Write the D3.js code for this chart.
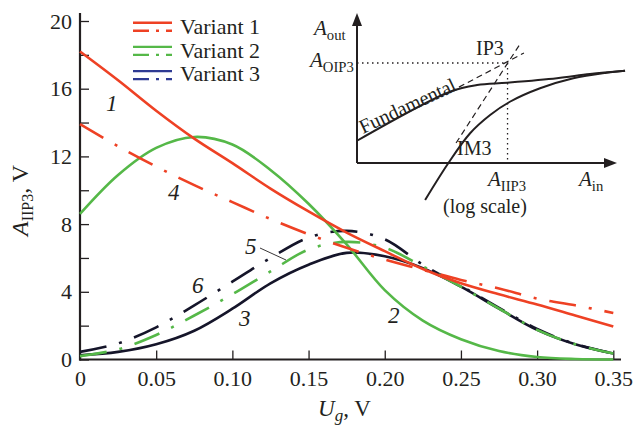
<!DOCTYPE html>
<html>
<head>
<meta charset="utf-8">
<script src="https://cdn.jsdelivr.net/npm/d3@7"></script>
<style>
body { margin: 0; background: #fff; }
svg text { font-family: "Liberation Serif", "DejaVu Serif", "Times New Roman", Times, serif !important; fill: #231f20; }
</style>
</head>
<body>
<div id="chart"></div>
<script>
const width = 638;
const height = 427;

// gate voltage, V
const ug = [0, 0.025, 0.05, 0.075, 0.1, 0.125, 0.15, 0.175, 0.2, 0.225, 0.25, 0.275, 0.3, 0.325, 0.35];
// A_IIP3, V
const curve1 = [18.2, 16.5, 14.7, 13.05, 11.6, 10.1, 8.75, 7.5, 6.4, 5.35, 4.5, 3.85, 3.25, 2.6, 1.95];
const curve4 = [13.9, 12.6, 11.4, 10.3, 9.3, 8.3, 7.4, 6.6, 5.9, 5.3, 4.7, 4.2, 3.6, 3.2, 2.75];
const curve2 = [8.6, 10.9, 12.5, 13.15, 12.7, 11.2, 9.2, 6.8, 4.1, 2.3, 1.2, 0.5, 0.15, 0.03, 0];
const curve5 = [0.2, 0.6, 1.45, 2.6, 3.85, 5.2, 6.5, 6.95, 6.6, 5.5, 4.3, 3.0, 1.75, 0.9, 0.35];
const curve3 = [0.25, 0.45, 0.9, 1.7, 3.0, 4.5, 5.6, 6.3, 6.1, 5.4, 4.3, 3.0, 1.75, 0.9, 0.35];
const curve6 = [0.45, 0.95, 1.9, 3.2, 4.6, 6.0, 7.2, 7.6, 7.1, 5.6, 4.35, 3.05, 1.8, 0.92, 0.36];

const xTicks = [0, 0.05, 0.1, 0.15, 0.2, 0.25, 0.3, 0.35];
const yTicks = [0, 2, 4, 6, 8, 10, 12, 14, 16, 18, 20];

const variants = ['Variant 1', 'Variant 2', 'Variant 3'];

// inset sketch (arbitrary units, log scale on both)
const fundX = [0, 3.58, 4.62, 5.77, 7.69, 8.96, 10.31];
const fundY = [0.89, 2.85, 3.12, 3.21, 3.39, 3.56, 3.69];
const fundExtX = [3.58, 6.42];
const fundExtY = [2.85, 4.4];
const im3X = [2.62, 3.51, 4.35, 5.12, 5.88, 7.04, 8.32, 9.6, 10.31];
const im3Y = [-1.48, -0.01, 1.19, 1.92, 2.45, 2.99, 3.39, 3.61, 3.69];
const im3ExtX = [3.81, 6.27];
const im3ExtY = [0.8, 4.76];
const ip3 = [5.79, 4.0];

const red = '#ee4124';
const green = '#55b848';
const navy = '#15152a';
const navyLegend = '#2e3a93';
const ink = '#231f20';
const serif = '"Liberation Serif", "DejaVu Serif", serif';

const svg = d3.select('#chart')
    .append('svg')
    .attr('width', width)
    .attr('height', height)
    .attr('font-family', serif)

const x = d3.scaleLinear().domain([0, 0.35]).range([80, 613.3])
const y = d3.scaleLinear().domain([0, 20]).range([359.5, 21])

// axes
svg.append('g')
    .attr('transform', 'translate(80,0)')
    .call(d3.axisLeft(y).tickValues(yTicks).tickSizeInner(-9).tickSizeOuter(0).tickPadding(8)
        .tickFormat(d => d % 4 === 0 ? d : ''))
    .attr('font-family', serif)
    .call(g => g.select('.domain').remove())
    .call(g => g.selectAll('line').attr('stroke', ink).attr('stroke-width', 1.3))
    .call(g => g.selectAll('text').attr('font-size', 22).attr('fill', ink))

svg.append('g')
    .attr('transform', 'translate(0,359.5)')
    .call(d3.axisBottom(x).tickValues(xTicks).tickSizeInner(-9).tickSizeOuter(0).tickPadding(11)
        .tickFormat(d => d === 0 ? '0' : d.toFixed(2)))
    .attr('font-family', serif)
    .call(g => g.select('.domain').remove())
    .call(g => g.selectAll('line').attr('stroke', ink).attr('stroke-width', 1.3))
    .call(g => g.selectAll('text').attr('font-size', 22).attr('fill', ink))

svg.append('line').attr('x1', 80).attr('x2', 80).attr('y1', 13).attr('y2', 360.5)
    .attr('stroke', ink).attr('stroke-width', 2.2)
svg.append('line').attr('x1', 79).attr('x2', 621).attr('y1', 359.5).attr('y2', 359.5)
    .attr('stroke', ink).attr('stroke-width', 2.2)

// curves
const line = d3.line()
    .x(d => x(d[0]))
    .y(d => y(Math.max(0, d[1])))
    .curve(d3.curveCatmullRom.alpha(0.5))

const dashDot = '27,13,3,13'
const series = [
    { v: curve3, color: navy, dash: null },
    { v: curve6, color: navy, dash: dashDot },
    { v: curve5, color: green, dash: dashDot },
    { v: curve2, color: green, dash: null },
    { v: curve4, color: red, dash: dashDot },
    { v: curve1, color: red, dash: null },
]

svg.selectAll('.curve')
    .data(series)
    .enter()
    .append('path')
    .attr('class', 'curve')
    .attr('d', d => line(ug.map((u, i) => [u, d.v[i]])))
    .attr('fill', 'none')
    .attr('stroke', d => d.color)
    .attr('stroke-width', 2.6)
    .attr('stroke-dasharray', d => d.dash)

// curve numbers
const numLabels = [
    { t: '1', px: 106, py: 111 },
    { t: '4', px: 168, py: 200 },
    { t: '2', px: 388, py: 323 },
    { t: '3', px: 239, py: 326 },
    { t: '6', px: 192, py: 293 },
    { t: '5', px: 245, py: 254 },
]
svg.selectAll('.num')
    .data(numLabels)
    .enter()
    .append('text')
    .attr('class', 'num')
    .attr('x', d => d.px)
    .attr('y', d => d.py)
    .attr('font-size', 23)
    .attr('font-style', 'italic')
    .text(d => d.t)
svg.append('line').attr('x1', 260).attr('y1', 248).attr('x2', 286).attr('y2', 260)
    .attr('stroke', ink).attr('stroke-width', 0.9)

// legend
const legend = svg.append('g')
variants.forEach((name, i) => {
    const c = [red, green, navyLegend][i]
    const y0 = 22.7 + i * 24.2
    legend.append('line').attr('x1', 133).attr('x2', 172).attr('y1', y0).attr('y2', y0)
        .attr('stroke', c).attr('stroke-width', 2.4)
    legend.append('line').attr('x1', 133).attr('x2', 172).attr('y1', y0 + 8).attr('y2', y0 + 8)
        .attr('stroke', c).attr('stroke-width', 2.4).attr('stroke-dasharray', '16,7,3,7')
    legend.append('text').attr('x', 180).attr('y', 34 + i * 23.6)
        .attr('font-size', 22).text(name)
})

// axis titles
const yt = svg.append('text')
    .attr('transform', 'translate(28,236) rotate(-90)')
    .attr('font-size', 24)
yt.append('tspan').attr('font-style', 'italic').text('A')
yt.append('tspan').attr('font-size', 16).attr('dy', 5).text('IIP3')
yt.append('tspan').attr('dy', -5).text(', V')

const xt = svg.append('text')
    .attr('x', 318).attr('y', 416)
    .attr('font-size', 23)
xt.append('tspan').attr('font-style', 'italic').text('U')
xt.append('tspan').attr('font-style', 'italic').attr('font-size', 17).attr('dy', 5).text('g')
xt.append('tspan').attr('dy', -5).text(', V')

// inset
const ix = d3.scaleLinear().domain([0, 10]).range([357, 617])
const iy = d3.scaleLinear().domain([0, 6]).range([163, 13])
const inset = svg.append('g')

const iline = d3.line().x(d => ix(d[0])).y(d => iy(d[1])).curve(d3.curveCatmullRom.alpha(0.5))
const ipairs = (a, b) => a.map((v, i) => [v, b[i]])

inset.append('line').attr('x1', ix(0)).attr('y1', iy(0)).attr('x2', ix(0)).attr('y2', iy(6) + 8)
    .attr('stroke', ink).attr('stroke-width', 2)
inset.append('line').attr('x1', ix(0)).attr('y1', iy(0)).attr('x2', ix(10) - 8).attr('y2', iy(0))
    .attr('stroke', ink).attr('stroke-width', 2)
inset.append('path')
    .attr('d', `M${ix(0)},${iy(6)} l-5,13 l10,0 z`)
    .attr('fill', ink)
inset.append('path')
    .attr('d', `M${ix(10)},${iy(0)} l-13,-5 l0,10 z`)
    .attr('fill', ink)

inset.append('path').attr('d', iline(ipairs(fundX, fundY)))
    .attr('fill', 'none').attr('stroke', ink).attr('stroke-width', 2)
inset.append('path').attr('d', iline(ipairs(im3X, im3Y)))
    .attr('fill', 'none').attr('stroke', ink).attr('stroke-width', 2)
inset.append('path').attr('d', d3.line()(ipairs(fundExtX, fundExtY).map(d => [ix(d[0]), iy(d[1])])))
    .attr('fill', 'none').attr('stroke', ink).attr('stroke-width', 1.2).attr('stroke-dasharray', '6,4')
inset.append('path').attr('d', d3.line()(ipairs(im3ExtX, im3ExtY).map(d => [ix(d[0]), iy(d[1])])))
    .attr('fill', 'none').attr('stroke', ink).attr('stroke-width', 1.2).attr('stroke-dasharray', '6,4')
inset.append('line').attr('x1', ix(0)).attr('x2', ix(ip3[0])).attr('y1', iy(ip3[1])).attr('y2', iy(ip3[1]))
    .attr('stroke', ink).attr('stroke-width', 1.3).attr('stroke-dasharray', '1.5,3.5')
inset.append('line').attr('x1', ix(ip3[0])).attr('x2', ix(ip3[0])).attr('y1', iy(ip3[1])).attr('y2', iy(0))
    .attr('stroke', ink).attr('stroke-width', 1.3).attr('stroke-dasharray', '1.5,3.5')

function sub(g, px, py, main, subText, size) {
    const t = g.append('text').attr('x', px).attr('y', py).attr('font-size', size)
    t.append('tspan').attr('font-style', 'italic').text(main)
    t.append('tspan').attr('font-size', size * 0.7).attr('dy', 5).text(subText)
    return t
}
sub(inset, 314, 35, 'A', 'out', 21)
sub(inset, 310, 67, 'A', 'OIP3', 21)
sub(inset, 488, 186, 'A', 'IIP3', 21)
sub(inset, 579, 186, 'A', 'in', 21)
inset.append('text').attr('x', 476).attr('y', 55).attr('font-size', 20).text('IP3')
inset.append('text').attr('x', 457).attr('y', 155).attr('font-size', 20).text('IM3')
inset.append('text').attr('x', 485).attr('y', 213).attr('font-size', 20).attr('text-anchor', 'middle').text('(log scale)')
inset.append('text')
    .attr('transform', 'translate(363,134) rotate(-25)')
    .attr('font-size', 20)
    .text('Fundamental')
</script>
</body>
</html>
